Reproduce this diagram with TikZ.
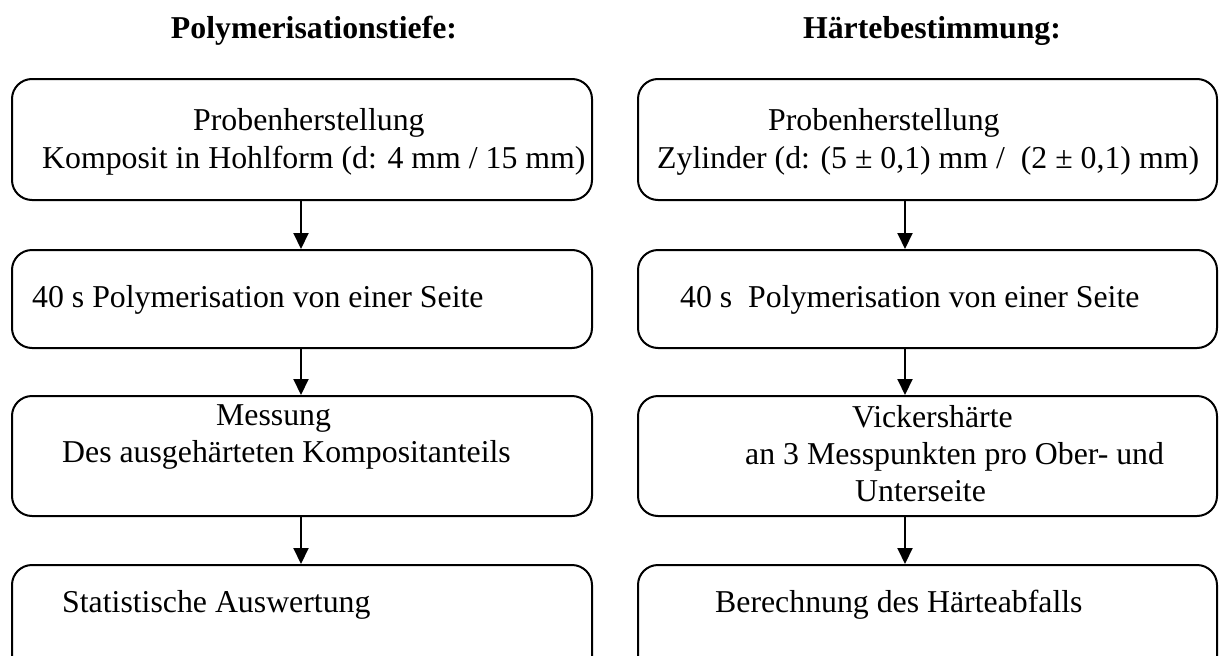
\documentclass[tikz,border=0pt]{standalone}
\usepackage{fontspec}
\setmainfont{Liberation Serif}
\usetikzlibrary{arrows.meta}
\tikzset{
  box/.style={draw, line width=2pt, rounded corners=20pt, minimum width=#1, inner sep=0pt},
  txt/.style={anchor=base west, inner sep=0pt, font=\fontsize{31.8}{38}\selectfont},
  ttl/.style={anchor=base, inner sep=0pt, font=\fontsize{31.8}{38}\selectfont\bfseries},
  arr/.style={line width=2pt, -{Triangle[width=15pt,length=16pt]}}
}
\begin{document}
\begin{tikzpicture}[x=1pt,y=-1pt]
\useasboundingbox (0,0) rectangle (1219,656);
\clip (0,0) rectangle (1219,656);
% titles
\node[ttl] (t1) at (314,38) {Polymerisationstiefe:};
\node[ttl] (t2) at (932,38) {Härtebestimmung:};
% left boxes
\node[box=580pt, minimum height=121pt] (l1) at (302,139.5) {};
\node[box=580pt, minimum height=98pt] (l2) at (302,299) {};
\node[box=580pt, minimum height=120pt] (l3) at (302,456) {};
\node[box=580pt, minimum height=120pt] (l4) at (302,625) {};
% right boxes
\node[box=579pt, minimum height=121pt] (r1) at (927.5,139.5) {};
\node[box=579pt, minimum height=98pt] (r2) at (927.5,299) {};
\node[box=579pt, minimum height=120pt] (r3) at (927.5,456) {};
\node[box=579pt, minimum height=120pt] (r4) at (927.5,625) {};
% left texts
\node[txt] (l1a) at (193,130) {Probenherstellung};
\node[txt] (l1b) at (42,168) {Komposit in Hohlform (d: 4 mm / 15 mm)};
\node[txt] (l2a) at (32,307) {40 s Polymerisation von einer Seite};
\node[txt] (l3a) at (216,425) {Messung};
\node[txt] (l3b) at (62,462) {Des ausgehärteten Kompositanteils};
\node[txt] (l4a) at (62,612) {Statistische Auswertung};
% right texts
\node[txt] (r1a) at (768,130) {Probenherstellung};
\node[txt] (r1b) at (657,168) {Zylinder (d: (5 ± 0,1) mm /\ \ (2 ± 0,1) mm)};
\node[txt] (r2a) at (680,307) {40 s\ \ Polymerisation von einer Seite};
\node[txt] (r3a) at (852,427) {Vickershärte};
\node[txt] (r3b) at (745,464) {an 3 Messpunkten pro Ober- und};
\node[txt] (r3c) at (855,501) {Unterseite};
\node[txt] (r4a) at (715,612) {Berechnung des Härteabfalls};
% arrows
\coordinate (lx) at (301,0);
\coordinate (rx) at (905,0);
\draw[arr] (l1.south -| lx) -- (l2.north -| lx);
\draw[arr] (l2.south -| lx) -- (l3.north -| lx);
\draw[arr] (l3.south -| lx) -- (l4.north -| lx);
\draw[arr] (r1.south -| rx) -- (r2.north -| rx);
\draw[arr] (r2.south -| rx) -- (r3.north -| rx);
\draw[arr] (r3.south -| rx) -- (r4.north -| rx);
\end{tikzpicture}
\end{document}
